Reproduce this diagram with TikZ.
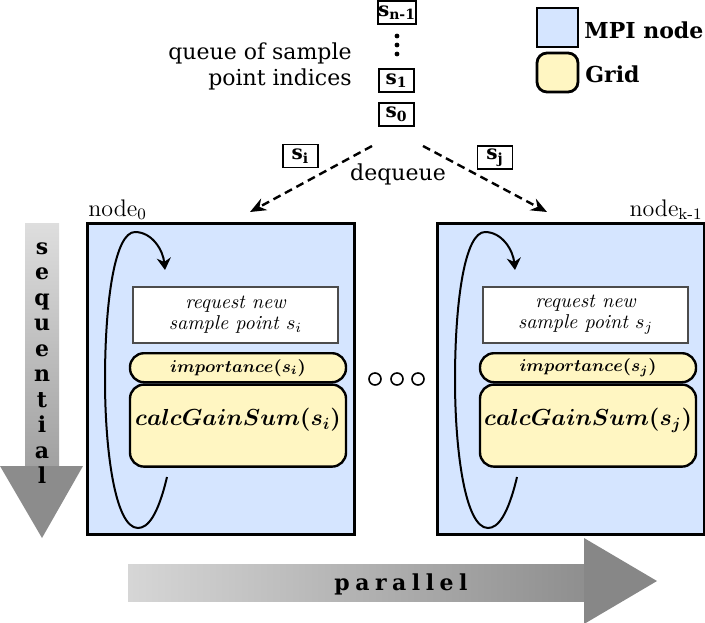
\RequirePackage{fix-cm}
\documentclass[tikz,border=0pt]{standalone}
\usepackage[no-math]{fontspec}
\setmainfont{DejaVu Serif}
\newfontfamily\lmroman{Latin Modern Roman}
\usetikzlibrary{positioning,arrows.meta}
\definecolor{mpiblue}{RGB}{213,229,255}
\definecolor{gridyellow}{RGB}{255,246,194}

\begin{document}
\begin{tikzpicture}[x=0.5pt, y=-0.5pt,
  mpinode/.style={draw, line width=1.5pt, fill=mpiblue, minimum width=133.5pt, minimum height=155.5pt, inner sep=0pt},
  reqbox/.style={draw=black!70, line width=1pt, fill=white, minimum width=102.5pt, minimum height=28pt, inner sep=0pt, align=center, font=\lmroman\itshape\fontsize{10}{10.5}\selectfont},
  gridbox/.style={draw, line width=1.2pt, fill=gridyellow, rounded corners=7pt, minimum width=108pt, inner sep=0pt},
  qbox/.style={draw, line width=0.9pt, fill=white, minimum width=17.5pt, minimum height=11.5pt, inner sep=0pt, font=\bfseries\fontsize{10}{12}\selectfont},
  cycarrow/.style={line width=1pt, -{Stealth[length=6pt,width=7pt]}},
  deq/.style={line width=1.2pt, dash pattern=on 4pt off 2.5pt, -{Stealth[length=8pt,width=6.5pt]}},
  legbox/.style={draw, line width=1.4pt, minimum width=20.5pt, minimum height=19.5pt, inner sep=0pt},
  legtext/.style={anchor=base west, inner sep=0pt, font=\bfseries\fontsize{11}{13}\selectfont},
  plain/.style={inner sep=0pt, font=\fontsize{11}{13}\selectfont},
  nodelabel/.style={inner sep=0pt, font=\lmroman\fontsize{12}{14}\selectfont},
  bigletter/.style={anchor=base, inner sep=0pt, font=\bfseries\fontsize{11}{13}\selectfont}
]
  \useasboundingbox (0,0) rectangle (705,622);

  % sequential / parallel
  \shade[top color=black!13, bottom color=black!37] (25,223) rectangle (59,467);
  \fill[black!45] (0,466) -- (83,466) -- (42,538) -- cycle;
  \foreach \c [count=\k] in {s,e,q,u,e,n,t,i,a,l}
    \node[bigletter] (seq\k) at (42,{228.5+25.5*\k}) {\c};
  \shade[left color=black!16, right color=black!44] (128,564) rectangle (584,601);
  \fill[black!47] (584,538) -- (657,581) -- (584,624) -- cycle;
  \node[bigletter, font=\bfseries\fontsize{11}{13}\selectfont\addfontfeature{LetterSpace=25}] (par) at (401,590) {parallel};

  % MPI nodes
  \foreach \nm/\sub/\cx in {0/i/221, k/j/571} {
    \node[mpinode] (node\nm) at (\cx,378.5) {};
    \node[reqbox] (req\nm) at ([shift={(7.25pt,31.75pt)}]node\nm.center) {request new\\sample point $s_\sub$};
    \node[gridbox, minimum height=14.5pt, below=4pt of req\nm, xshift=1.25pt, font=\fontsize{8.6}{10}\selectfont\boldmath] (imp\nm) {$importance(s_\sub)$};
    \node[gridbox, minimum height=41pt, below=0pt of imp\nm, text height=8.5pt, text depth=8.5pt, font=\fontsize{11.6}{13}\selectfont\boldmath] (calc\nm) {$calcGainSum(s_\sub)$};
  }
  \foreach \dx in {0,350}
    \draw[cycarrow, shift={(\dx,0)}] (167,477) .. controls (158,515) and (148,528) .. (138,528)
      .. controls (115,528) and (105,450) .. (105,380)
      .. controls (105,300) and (115,232) .. (135,232)
      .. controls (152,232) and (163,250) .. (165,270);
  \node[nodelabel, anchor=base west] (lab0) at (88,216) {node$_0$};
  \node[nodelabel, anchor=base east] (labk) at (703,216) {node\textsubscript{k-1}};
  \foreach \x in {375,397,418}
    \draw[line width=0.8pt] (\x,379) circle (3pt);

  % queue
  \node[qbox] (qn) at (397,12.5) {s\textsubscript{n-1}};
  \node[qbox] (q1) at (396.5,80.5) {s\textsubscript{1}};
  \node[qbox, below=4.5pt of q1] (q0) {s\textsubscript{0}};
  \foreach \y in {36,45,54}
    \fill (397,\y) circle (1.2pt);
  \node[plain, anchor=east, align=right] (qlabel) at (352,66) {queue of sample\\point indices};

  % dequeue
  \node[qbox] (si) at (300.5,156) {s\textsubscript{i}};
  \node[qbox] (sj) at (495,157.5) {s\textsubscript{j}};
  \node[plain, anchor=base] (deqtext) at (398,180) {dequeue};
  \coordinate (deqL) at (372,146);
  \coordinate (deqR) at (423,146);
  \coordinate (inL) at (250,212);
  \coordinate (inR) at (547,212);
  \draw[deq] (deqL) -- (inL);
  \draw[deq] (deqR) -- (inR);

  % legend
  \node[legbox, fill=mpiblue] (legmpi) at (557.5,27.5) {};
  \node[legtext] (legmpitext) at (584,38) {MPI node};
  \node[legbox, fill=gridyellow, rounded corners=5pt] (leggrid) at (557.5,72.5) {};
  \node[legtext] (leggridtext) at (585,82) {Grid};
\end{tikzpicture}
\end{document}
